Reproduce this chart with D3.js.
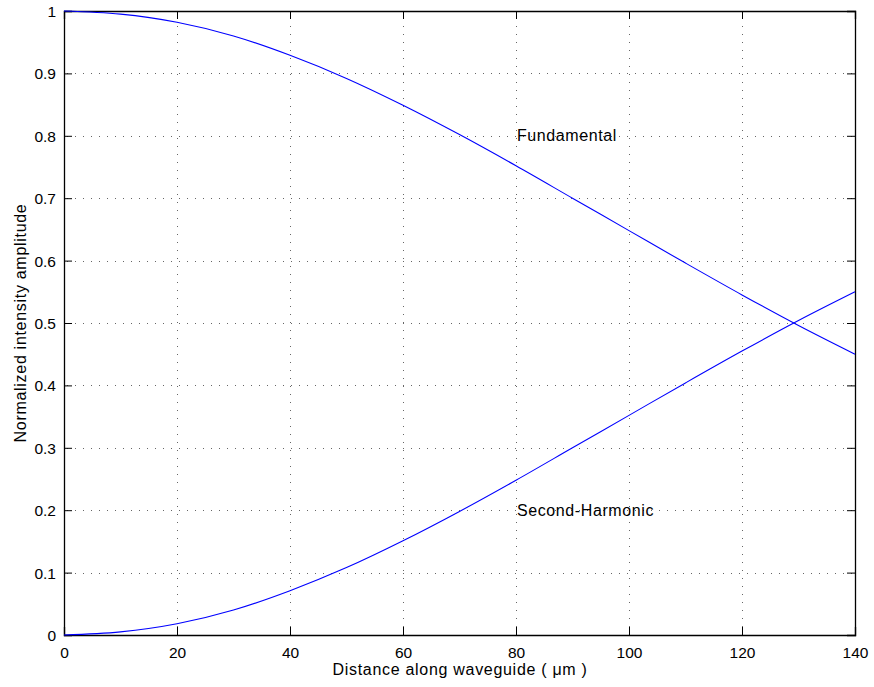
<!DOCTYPE html>
<html><head><meta charset="utf-8">
<script src="https://cdn.jsdelivr.net/npm/d3@7"></script>
<style>body{margin:0;background:#fff}svg{display:block}text{font-family:"Liberation Sans",Arial,sans-serif;}</style>
</head><body>
<svg id="c" width="874" height="687"></svg>
<script>
const distance = [0,10,20,30,40,50,60,70,80,90,100,110,120,130,140];
const fundamental = [1.0,0.995,0.982,0.960,0.929,0.892,0.849,0.802,0.752,0.700,0.648,0.596,0.545,0.496,0.450];
const secondHarmonic = [0,0.005,0.018,0.040,0.071,0.108,0.151,0.198,0.248,0.300,0.352,0.404,0.455,0.504,0.550];
const xTicks = [0,20,40,60,80,100,120,140];
const yTicks = [0,0.1,0.2,0.3,0.4,0.5,0.6,0.7,0.8,0.9,1];
const labels = [{text:"Fundamental", x:80, y:0.792},{text:"Second-Harmonic", x:80, y:0.19}];

const svg = d3.select("#c");
const L=64,R=855,T=11,B=635;
const x = d3.scaleLinear().domain([0,140]).range([L,R]);
const y = d3.scaleLinear().domain([0,1]).range([B,T]);

const g = svg.append("g");
// grid
const gridStyle = s => s.attr("stroke","#666").attr("stroke-width",1).attr("stroke-dasharray","1,7").attr("shape-rendering","crispEdges");
g.selectAll(".gx").data(xTicks.slice(1,-1)).join("line")
 .attr("x1",d=>Math.round(x(d))+0.5).attr("x2",d=>Math.round(x(d))+0.5).attr("y1",B).attr("y2",T).call(gridStyle);
g.selectAll(".gy").data(yTicks.slice(1,-1)).join("line")
 .attr("y1",d=>Math.round(y(d))+0.5).attr("y2",d=>Math.round(y(d))+0.5).attr("x1",L+3).attr("x2",R).call(gridStyle);

// axes
const tl = 8;
const fmt = d3.format("~g");
const ax = g.append("g").attr("transform",`translate(0,${B})`).call(d3.axisBottom(x).tickValues(xTicks).tickSize(-tl).tickPadding(12).tickFormat(fmt));
const axT = g.append("g").attr("transform",`translate(0,${T})`).call(d3.axisTop(x).tickValues(xTicks).tickSize(-tl).tickFormat(""));
const ay = g.append("g").attr("transform",`translate(${L},0)`).call(d3.axisLeft(y).tickValues(yTicks).tickSize(-tl).tickPadding(8).tickFormat(fmt));
const ayR = g.append("g").attr("transform",`translate(${R},0)`).call(d3.axisRight(y).tickValues(yTicks).tickSize(-tl).tickFormat(""));
[ax,axT,ay,ayR].forEach(a=>{
  a.select(".domain").attr("stroke","#000").attr("stroke-width",1.3);
  a.selectAll(".tick line").attr("stroke","#000");
  a.selectAll("text").attr("font-size",15.5).attr("fill","#000").attr("font-family","'Liberation Sans',Arial,sans-serif");
});
ax.selectAll("text").attr("dy","0.71em");
ay.selectAll("text").attr("dy","0.35em");

// lines
const line = d3.line().x((d,i)=>x(distance[i])).y(d=>y(d)).curve(d3.curveCatmullRom);
[fundamental, secondHarmonic].forEach(s=>{
  g.append("path").attr("d",line(s)).attr("fill","none").attr("stroke","#0000ff").attr("stroke-width",1.1);
});

// labels
g.selectAll(".lab").data(labels).join("text")
 .attr("x",d=>x(d.x)+1).attr("y",d=>y(d.y)).attr("font-size",16).attr("letter-spacing","0.6px").text(d=>d.text);

svg.append("text").attr("x",460).attr("y",675).attr("text-anchor","middle").attr("font-size",16).attr("letter-spacing","0.7px").text("Distance along waveguide ( μm )");
svg.append("text").attr("transform",`translate(26,${(T+B)/2}) rotate(-90)`).attr("text-anchor","middle").attr("font-size",16).attr("letter-spacing","0.7px").text("Normalized intensity amplitude");
</script>
</body></html>
